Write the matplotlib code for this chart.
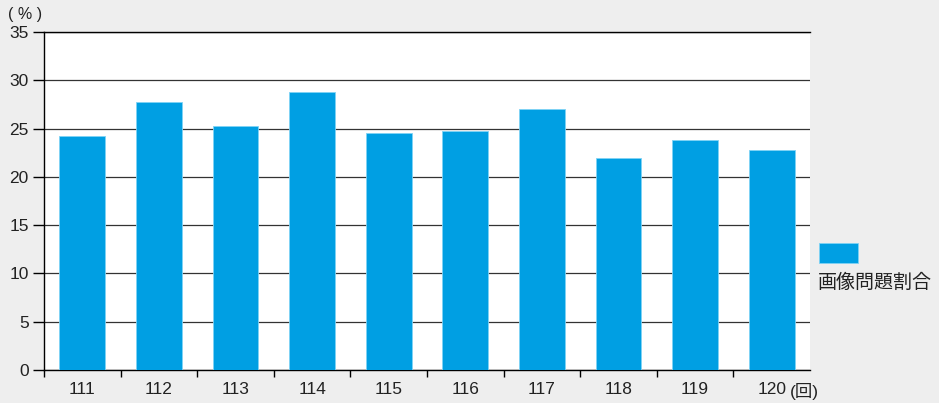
import matplotlib
matplotlib.use("Agg")
import matplotlib.pyplot as plt
from matplotlib.patches import Rectangle

plt.rcParams["font.family"] = ["Liberation Sans", "Noto Sans CJK JP", "DejaVu Sans"]

sessions = ["111", "112", "113", "114", "115", "116", "117", "118", "119", "120"]
image_ratio = [24.2, 27.8, 25.3, 28.8, 24.5, 24.8, 27.0, 22.0, 23.8, 22.8]
y_ticks = [0, 5, 10, 15, 20, 25, 30, 35]

BAR = "#009fe3"
BG = "#eeeeee"
TXT = "#222222"

fig = plt.figure(figsize=(9.39, 4.03), dpi=100, facecolor=BG)
ax = fig.add_axes([44 / 939, 33 / 403, 766 / 939, 338 / 403])
ax.set_facecolor("white")

x = list(range(len(sessions)))
ax.bar(x, image_ratio, width=0.6, color=BAR, edgecolor="#7fd3f5",
       linewidth=0.6, zorder=3)

ax.set_xlim(-0.5, len(sessions) - 0.5)
ax.set_ylim(0, 35)
ax.set_yticks(y_ticks)
ax.set_yticklabels([str(v) for v in y_ticks], fontsize=12.5, color=TXT)
ax.yaxis.grid(True, color="#333333", linewidth=0.9, zorder=1)
ax.set_axisbelow(True)

# category labels centered, tick marks at category boundaries
ax.set_xticks(x)
ax.set_xticklabels(sessions, fontsize=12.5, color=TXT)
ax.tick_params(axis="x", length=0, pad=9)
ax.set_xticks([i - 0.5 for i in range(len(sessions))], minor=True)
ax.tick_params(axis="x", which="minor", length=5, width=1, color="black")
ax.tick_params(axis="y", length=8, width=1, pad=3, color="black")

for side in ["left", "bottom", "top"]:
    ax.spines[side].set_color("black")
    ax.spines[side].set_linewidth(1)
ax.spines["right"].set_visible(False)

fig.text(25 / 939, 1 - 15 / 403, "( % )", fontsize=11.5, color=TXT,
         ha="center", va="center")
ax.annotate("(回)", xy=(len(sessions) - 1, 0), xycoords=("data", "axes fraction"),
            xytext=(18, -21), textcoords="offset pixels", fontsize=12.5,
            color=TXT, ha="left", va="center")

# legend swatch and label
fig.patches.append(Rectangle((819 / 939, 1 - 263 / 403), 39 / 939, 20 / 403,
                             transform=fig.transFigure, facecolor=BAR,
                             edgecolor="#7fd3f5", linewidth=0.6))
fig.text(818 / 939, 1 - 283 / 403, "画像問題割合", fontsize=13.7, color=TXT,
         ha="left", va="center")

fig.savefig("out.png", dpi=100, facecolor=BG)
